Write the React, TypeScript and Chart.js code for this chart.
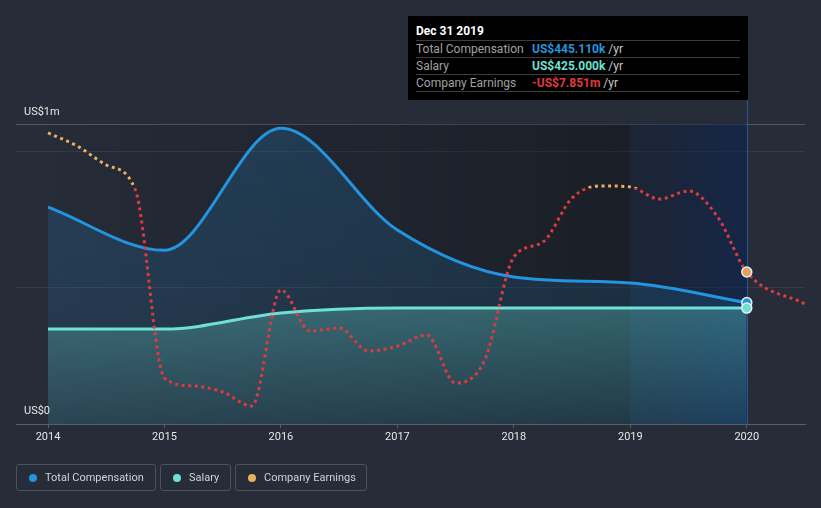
import React, { useEffect, useRef } from 'react';
import { Chart, registerables } from 'chart.js';

Chart.register(...registerables);

// ---- data ----
const compYears = [2014, 2015, 2016, 2017, 2018, 2019, 2020];
const totalCompK = [795, 637, 1084, 711, 539, 517, 445.11];
const salaryK = [348, 348, 407, 425, 425, 425, 425];

const earningsX = [
  2014, 2014.25, 2014.5, 2014.75, 2015, 2015.25, 2015.5, 2015.75, 2016, 2016.25, 2016.5, 2016.75,
  2017, 2017.25, 2017.5, 2017.75, 2018, 2018.25, 2018.5, 2018.75, 2019, 2019.25, 2019.5, 2019.75,
  2020, 2020.5,
];
const earningsM = [
  5.22, 4.0, 2.21, -0.14, -17.82, -18.57, -19.13, -20.45, -9.54, -13.4, -13.12, -15.28,
  -14.81, -13.77, -18.29, -16.12, -6.44, -5.03, -0.89, 0.24, 0.14, -0.99, -0.24, -2.68,
  -7.851, -10.86,
];

const xTickYears = [2014, 2015, 2016, 2017, 2018, 2019, 2020];
const yGridK = [0, 500, 1000, 1100];
const yLabels = ['US$1m', 'US$0'];
const legendItems = ['Total Compensation', 'Salary', 'Company Earnings'];
const tooltipTitle = 'Dec 31 2019';
const tooltipRows = [
  { label: 'Total Compensation', value: 'US$445.110k' },
  { label: 'Salary', value: 'US$425.000k' },
  { label: 'Company Earnings', value: '-US$7.851m' },
];

const BG = '#262c38';
const BLUE = '#2394df';
const TEAL = '#6ee0d4';
const ORANGE = '#e8b15a';
const RED = '#e0393e';
const FONT = 'Roboto, "Open Sans", sans-serif';

const highlightFrom = 2019;
const highlightTo = 2020;

const bgPlugin = {
  id: 'bgPlugin',
  beforeDatasetsDraw(chart: any) {
    const { ctx, chartArea, scales } = chart;
    const x = scales.x;
    const x0 = x.getPixelForValue(2014);
    const x1 = x.getPixelForValue(highlightFrom);
    const x2 = x.getPixelForValue(highlightTo);
    ctx.save();
    const g = ctx.createLinearGradient(x0, 0, x1, 0);
    g.addColorStop(0, 'rgba(0,0,0,0)');
    g.addColorStop(1, 'rgba(0,0,0,0.3)');
    ctx.fillStyle = g;
    ctx.fillRect(x0, chartArea.top, x1 - x0, chartArea.bottom - chartArea.top);
    const h = ctx.createLinearGradient(x1, 0, x2, 0);
    h.addColorStop(0, 'rgba(10,25,50,0.35)');
    h.addColorStop(1, 'rgba(8,35,85,0.55)');
    ctx.fillStyle = h;
    ctx.fillRect(x1, chartArea.top, x2 - x1, chartArea.bottom - chartArea.top);
    ctx.strokeStyle = 'rgba(50,110,190,0.6)';
    ctx.lineWidth = 1;
    ctx.beginPath();
    ctx.moveTo(Math.round(x2) + 0.5, 100);
    ctx.lineTo(Math.round(x2) + 0.5, chartArea.bottom);
    ctx.stroke();
    ctx.restore();
  },
  afterDraw(chart: any) {
    const { ctx, chartArea } = chart;
    ctx.save();
    ctx.font = `11px ${FONT}`;
    ctx.fillStyle = '#e6e6e6';
    ctx.textBaseline = 'middle';
    ctx.textAlign = 'left';
    ctx.fillText(yLabels[0], chartArea.left + 8, chartArea.top - 12);
    ctx.fillText(yLabels[1], chartArea.left + 8, chartArea.bottom - 13);
    ctx.restore();
  },
};

function vGrad(chart: any, stops: [number, string][], fallback: string) {
  const { ctx, chartArea } = chart;
  if (!chartArea) return fallback;
  const g = ctx.createLinearGradient(0, chartArea.top, 0, chartArea.bottom);
  stops.forEach(([p, c]) => g.addColorStop(p, c));
  return g;
}

export default function App() {
  const ref = useRef<HTMLCanvasElement | null>(null);

  useEffect(() => {
    document.body.style.margin = '0';
    document.body.style.background = BG;
    if (!ref.current) return;
    const lastComp = compYears.length - 1;
    const idx2020 = earningsX.indexOf(2020);
    const chart = new Chart(ref.current, {
      type: 'line',
      data: {
        datasets: [
          {
            label: 'Company Earnings',
            data: earningsX.map((x, i) => ({ x, y: earningsM[i] })),
            yAxisID: 'y2',
            borderColor: (c: any) => {
              const chart = c.chart;
              const { chartArea, scales } = chart;
              if (!chartArea || !scales.y2) return ORANGE;
              const z = (scales.y2.getPixelForValue(0) - chartArea.top) / (chartArea.bottom - chartArea.top);
              const zz = Math.min(1, Math.max(0, z));
              return vGrad(chart, [[0, ORANGE], [zz, ORANGE], [zz, RED], [1, RED]], ORANGE);
            },
            borderWidth: 3,
            borderDash: [3, 3.6],
            fill: false,
            cubicInterpolationMode: 'monotone',
            pointRadius: (c: any) => (c.dataIndex === idx2020 ? 5 : 0),
            pointBackgroundColor: '#e0a35c',
            pointBorderColor: '#e8eef5',
            pointBorderWidth: 1.5,
          },
          {
            label: 'Salary',
            data: compYears.map((x, i) => ({ x, y: salaryK[i] })),
            yAxisID: 'y',
            borderColor: TEAL,
            borderWidth: 3,
            fill: 'origin',
            backgroundColor: (c: any) =>
              vGrad(c.chart, [[0, 'rgba(110,225,212,0.42)'], [0.6, 'rgba(110,225,212,0.3)'], [1, 'rgba(110,225,212,0.08)']], 'rgba(110,225,212,0.25)'),
            cubicInterpolationMode: 'monotone',
            pointRadius: (c: any) => (c.dataIndex === lastComp ? 5 : 0),
            pointBackgroundColor: TEAL,
            pointBorderColor: '#e8eef5',
            pointBorderWidth: 1.5,
          },
          {
            label: 'Total Compensation',
            data: compYears.map((x, i) => ({ x, y: totalCompK[i] })),
            yAxisID: 'y',
            borderColor: BLUE,
            borderWidth: 3,
            fill: 'origin',
            backgroundColor: (c: any) =>
              vGrad(c.chart, [[0, 'rgba(35,148,223,0.2)'], [1, 'rgba(35,148,223,0.1)']], 'rgba(35,148,223,0.15)'),
            cubicInterpolationMode: 'monotone',
            pointRadius: (c: any) => (c.dataIndex === lastComp ? 5 : 0),
            pointBackgroundColor: BLUE,
            pointBorderColor: '#e8eef5',
            pointBorderWidth: 1.5,
          },
        ],
      },
      options: {
        animation: false,
        responsive: false,
        devicePixelRatio: 1,
        layout: { padding: { left: 16, right: 16, top: 124, bottom: 60.8 } },
        plugins: { legend: { display: false }, tooltip: { enabled: false } },
        events: [],
        scales: {
          x: {
            type: 'linear',
            min: 2013.725,
            max: 2020.5,
            afterBuildTicks: (s: any) => {
              s.ticks = xTickYears.map((v) => ({ value: v }));
            },
            grid: { drawOnChartArea: false, drawTicks: true, tickLength: 4, color: '#5a5f69' },
            border: { display: true, color: '#5a5f69', width: 1 },
            ticks: {
              color: '#e6e6e6',
              font: { family: FONT, size: 11 },
              padding: 3,
              maxRotation: 0,
              callback: (v: any) => String(v),
            },
          },
          y: {
            type: 'linear',
            min: 0,
            max: 1100,
            afterBuildTicks: (s: any) => {
              s.ticks = yGridK.map((v) => ({ value: v }));
            },
            grid: {
              drawTicks: false,
              color: (c: any) => (c.tick && c.tick.value === 1100 ? 'rgba(255,255,255,0.2)' : c.tick && c.tick.value === 0 ? 'rgba(0,0,0,0)' : 'rgba(255,255,255,0.07)'),
            },
            border: { display: false },
            ticks: { display: false },
          },
          y2: {
            type: 'linear',
            display: false,
            min: -22.14,
            max: 6.06,
          },
        },
      },
      plugins: [bgPlugin],
    } as any);
    return () => chart.destroy();
  }, []);

  const dotColors = [BLUE, TEAL, ORANGE];
  const valueColors = [BLUE, TEAL, RED];
  const legendBoxes = [
    { left: 16, width: 140 },
    { left: 160, width: 71 },
    { left: 235, width: 132 },
  ];
  const rowTops = [24, 41, 58];

  return (
    <div style={{ position: 'fixed', left: 0, top: 0, width: 821, height: 508, background: BG, fontFamily: FONT, overflow: 'hidden' }}>
      <canvas ref={ref} width={821} height={508} style={{ position: 'absolute', left: 0, top: 0, width: 821, height: 508 }} />
      <div style={{ position: 'absolute', left: 408, top: 16, width: 340, height: 84, background: '#000' }}>
        <div style={{ position: 'absolute', left: 8, top: 8, height: 14, lineHeight: '14px', fontSize: 12, fontWeight: 700, color: '#fff' }}>
          {tooltipTitle}
        </div>
        {tooltipRows.map((r, i) => (
          <div key={r.label} style={{ position: 'absolute', left: 8, right: 8, top: rowTops[i], height: 17, borderTop: '1px solid #3c3c3c', fontSize: 12, lineHeight: '16px' }}>
            <span style={{ position: 'absolute', left: 0, top: 0, color: '#a0a0a0' }}>{r.label}</span>
            <span style={{ position: 'absolute', left: 116, top: 0, whiteSpace: 'nowrap' }}>
              <span style={{ color: valueColors[i], fontWeight: 700 }}>{r.value}</span>
              <span style={{ color: '#c8c8c8' }}> /yr</span>
            </span>
          </div>
        ))}
        <div style={{ position: 'absolute', left: 8, right: 8, top: 75, borderTop: '1px solid #3c3c3c' }} />
      </div>
      {legendItems.map((t, i) => (
        <div
          key={t}
          style={{
            position: 'absolute',
            left: legendBoxes[i].left,
            top: 464,
            width: legendBoxes[i].width,
            height: 27,
            boxSizing: 'border-box',
            border: '1px solid #4b515d',
            borderRadius: 3,
            display: 'flex',
            alignItems: 'center',
            paddingLeft: 12,
            fontSize: 11,
            color: '#cfd2d6',
          }}
        >
          <span style={{ width: 8, height: 8, borderRadius: 4, background: dotColors[i], marginRight: 8, flex: 'none' }} />
          <span style={{ whiteSpace: 'nowrap' }}>{t}</span>
        </div>
      ))}
    </div>
  );
}
